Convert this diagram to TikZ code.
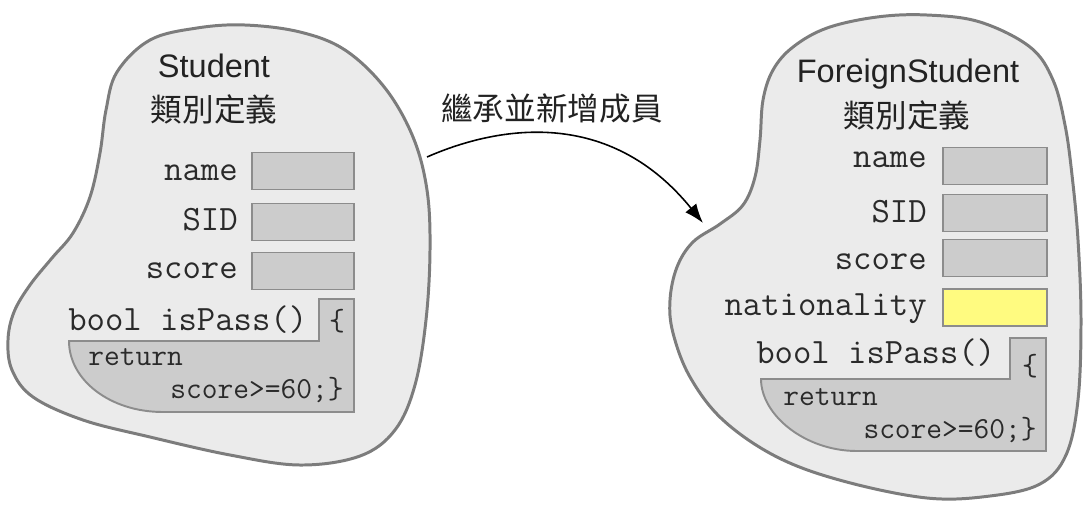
\documentclass[tikz,border=0pt]{standalone}
\usepackage{fontspec}
\newfontfamily\sansf{Liberation Sans}
\newfontfamily\cjk{Noto Sans CJK TC}
\usetikzlibrary{arrows.meta}
\definecolor{blobfill}{HTML}{EBEBEB}
\definecolor{blobline}{HTML}{7C7C7C}
\definecolor{boxfill}{HTML}{CCCCCC}
\definecolor{boxline}{HTML}{8C8C8C}
\definecolor{newfill}{HTML}{FFFB80}
\definecolor{txt}{HTML}{222222}
\definecolor{codetxt}{HTML}{2A2A2A}
\tikzset{
  blob/.style={draw=blobline, line width=1.7pt, fill=blobfill},
  field/.style={draw=boxline, line width=1.1pt, fill=boxfill, inner sep=0pt, minimum height=0.74cm},
  newfield/.style={field, fill=newfill},
  method/.style={draw=boxline, line width=1.1pt, fill=boxfill},
  lbl/.style={font=\ttfamily\fontsize{20.3pt}{22pt}\selectfont, text=codetxt, inner sep=0pt},
  code/.style={font=\ttfamily\fontsize{17.4pt}{20pt}\selectfont, text=codetxt, inner sep=0pt},
  ttl/.style={font=\sansf\fontsize{18.5pt}{22pt}\selectfont, text=txt, inner sep=0pt},
  cjkt/.style={font=\cjk\fontsize{18pt}{22pt}\selectfont, text=txt, inner sep=0pt},
  inherit/.style={draw=black, line width=0.9pt, -{Latex[length=11pt,width=8pt]}}
}
\begin{document}
\begin{tikzpicture}[x=0.02cm,y=-0.02cm]
\useasboundingbox (0,0) rectangle (1085,505);

% left blob
\draw[blob] plot[smooth cycle, tension=0.6] coordinates {
 (245,25) (300,32) (345,50) (385,88) (413,137) (427,190) (430,250) (426,320)
 (415,385) (395,430) (360,456) (300,465) (230,455) (150,437) (83,420) (33,397)
 (12,370) (8,340) (14,312) (30,285) (52,258) (73,233) (90,197) (100,153)
 (106,110) (117,72) (150,40) (197,28)};

% right blob
\draw[blob] plot[smooth cycle, tension=0.6] coordinates {
 (927,15) (980,22) (1030,47) (1053,80) (1065,125) (1072,175) (1078,240) (1081,320)
 (1078,400) (1066,455) (1040,484) (990,496) (927,498) (843,481) (777,457) (723,420)
 (690,377) (673,333) (670,300) (677,267) (693,242) (720,224) (743,205) (755,177)
 (760,140) (763,100) (773,70) (793,47) (827,28) (877,17)};

% left class
\node[ttl, anchor=base] (ltitle) at (214,77) {Student};
\node[cjkt] (lsub) at (214,109) {類別定義};
\node[field, minimum width=2.04cm] (lnamebox) at (303,171) {};
\node[field, minimum width=2.04cm] (lsidbox) at (303,222) {};
\node[field, minimum width=2.04cm] (lscorebox) at (303,271) {};
\node[lbl, anchor=base east] (lname) at (238,180) {name};
\node[lbl, anchor=base east] (lsid) at (238,230) {SID};
\node[lbl, anchor=base east] (lscore) at (238,278) {score};
\draw[method] (319,299) -- (354,299) -- (354,412) -- (163,412)
  .. controls (110,412) and (69,380) .. (69,341) -- (319,341) -- cycle;
\node[lbl, anchor=base west] (lbool) at (68,330) {bool isPass()};
\node[code, anchor=base] (lopen) at (337,330) {\{};
\node[code, anchor=base west] (lret) at (88,365) {return};
\node[code, anchor=base east] (lexpr) at (344,398) {score>=60;\}};

% right class
\node[ttl, anchor=base] (rtitle) at (908,82) {ForeignStudent};
\node[cjkt] (rsub) at (907,115) {類別定義};
\node[field, minimum width=2.08cm] (rnamebox) at (995,166) {};
\node[field, minimum width=2.08cm] (rsidbox) at (995,213) {};
\node[field, minimum width=2.08cm] (rscorebox) at (995,258) {};
\node[newfield, minimum width=2.08cm] (rnatbox) at (995,307.5) {};
\node[lbl, anchor=base east] (rname) at (927,167) {name};
\node[lbl, anchor=base east] (rsid) at (927,222) {SID};
\node[lbl, anchor=base east] (rscore) at (927,269) {score};
\node[lbl, anchor=base east] (rnat) at (927,315) {nationality};
\draw[method] (1010,338) -- (1046,338) -- (1046,451) -- (857,451)
  .. controls (805,451) and (761,415) .. (761,379) -- (1010,379) -- cycle;
\node[lbl, anchor=base west] (rbool) at (756,363) {bool isPass()};
\node[code, anchor=base] (ropen) at (1030,375) {\{};
\node[code, anchor=base west] (rret) at (783,405) {return};
\node[code, anchor=base east] (rexpr) at (1037,438) {score>=60;\}};

% inheritance arrow
\coordinate (as) at (427,157);
\coordinate (ae) at (703,223);
\draw[inherit] (as) .. controls (500,125) and (610,108) .. (ae);
\node[cjkt] (albl) at (552,108) {繼承並新增成員};
\end{tikzpicture}
\end{document}
